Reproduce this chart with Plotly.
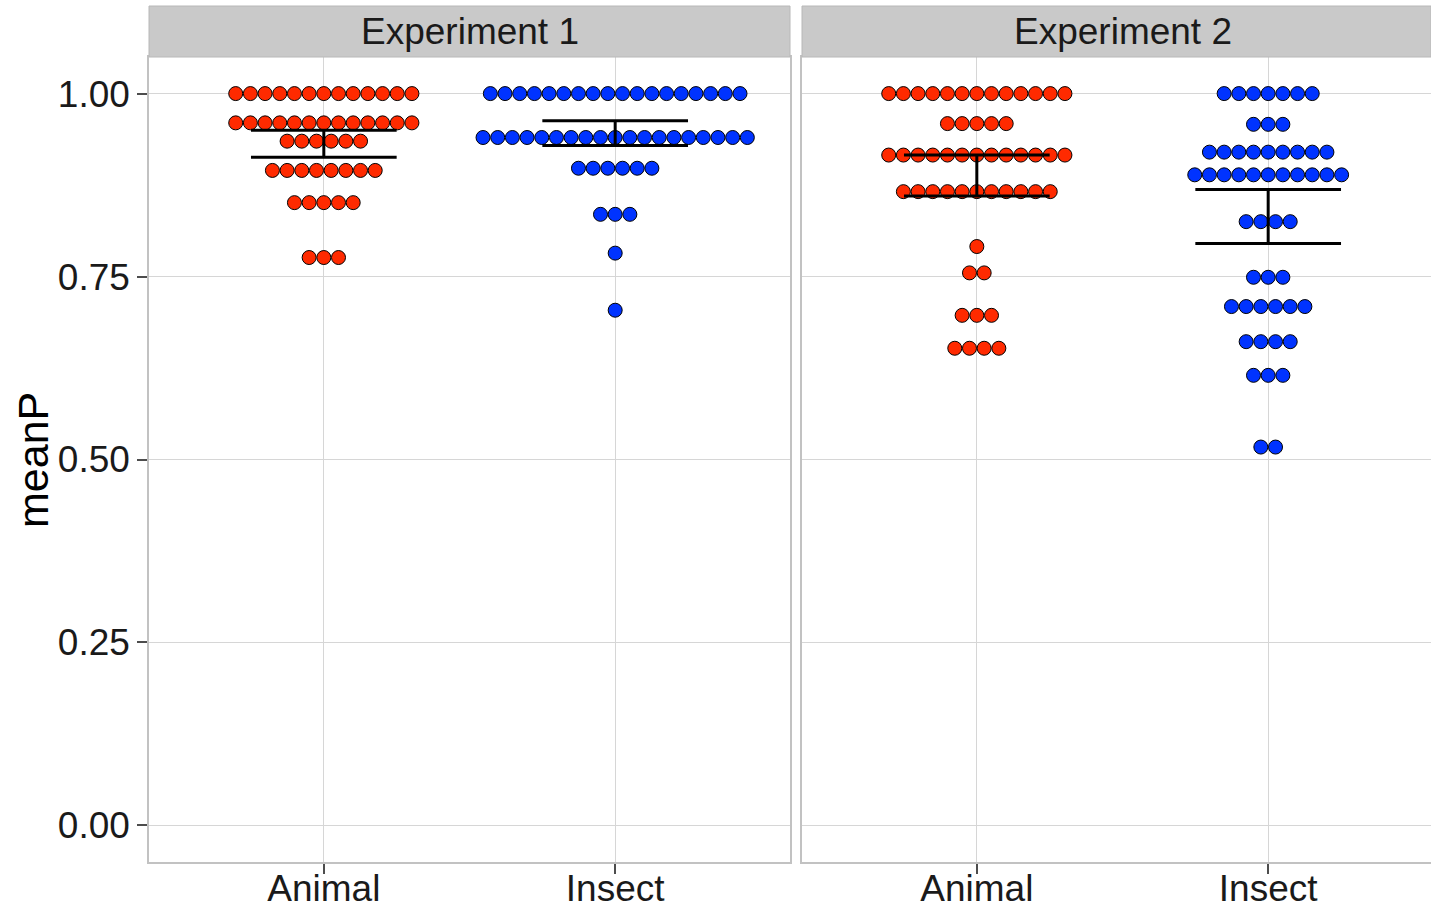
import plotly.graph_objects as go

experiments = ["Experiment 1", "Experiment 2"]
categories = ["Animal", "Insect"]
y_ticks = [0.00, 0.25, 0.50, 0.75, 1.00]
y_tick_labels = ["0.00", "0.25", "0.50", "0.75", "1.00"]

# Dot rows: binned meanP level and the number of participants in each bin
exp1_animal_levels = [1.000, 0.960, 0.935, 0.895, 0.851, 0.776]
exp1_animal_counts = [13, 13, 6, 8, 5, 3]
exp1_insect_levels = [1.000, 0.940, 0.898, 0.835, 0.782, 0.704]
exp1_insect_counts = [18, 19, 6, 3, 1, 1]
exp2_animal_levels = [1.000, 0.959, 0.916, 0.866, 0.791, 0.755, 0.697, 0.652]
exp2_animal_counts = [13, 5, 13, 11, 1, 2, 3, 4]
exp2_insect_levels = [1.000, 0.958, 0.920, 0.889, 0.825, 0.749, 0.709, 0.661, 0.615, 0.517]
exp2_insect_counts = [7, 3, 9, 11, 4, 3, 6, 4, 3, 2]

# Confidence interval around each group mean (Animal, Insect)
exp1_ci_low = [0.913, 0.929]
exp1_ci_high = [0.950, 0.963]
exp2_ci_low = [0.860, 0.795]
exp2_ci_high = [0.916, 0.869]

colors = {"Animal": "#ff2a00", "Insect": "#0033ff"}

DOT_STEP = 0.0504      # horizontal spacing of stacked dots, in category units
CAP_HALF = 0.25        # half width of the error bar caps

panels = [
    {
        "name": experiments[0], "x": "x", "y": "y",
        "groups": [(exp1_animal_levels, exp1_animal_counts),
                   (exp1_insect_levels, exp1_insect_counts)],
        "lo": exp1_ci_low, "hi": exp1_ci_high,
    },
    {
        "name": experiments[1], "x": "x2", "y": "y2",
        "groups": [(exp2_animal_levels, exp2_animal_counts),
                   (exp2_insect_levels, exp2_insect_counts)],
        "lo": exp2_ci_low, "hi": exp2_ci_high,
    },
]

fig = go.Figure()

for panel in panels:
    # centred dot stacks
    for ci, (levels, counts) in enumerate(panel["groups"]):
        xs, ys = [], []
        for level, n in zip(levels, counts):
            for i in range(n):
                xs.append(ci + (i - (n - 1) / 2) * DOT_STEP)
                ys.append(level)
        fig.add_trace(go.Scatter(
            x=xs, y=ys, mode="markers", xaxis=panel["x"], yaxis=panel["y"],
            marker=dict(size=14, color=colors[categories[ci]],
                        line=dict(color="black", width=1)),
            showlegend=False, hoverinfo="y",
        ))
    # error bars
    ex, ey = [], []
    for ci in range(len(categories)):
        lo, hi = panel["lo"][ci], panel["hi"][ci]
        ex += [ci - CAP_HALF, ci + CAP_HALF, None, ci, ci, None, ci - CAP_HALF, ci + CAP_HALF, None]
        ey += [hi, hi, None, lo, hi, None, lo, lo, None]
    fig.add_trace(go.Scatter(
        x=ex, y=ey, mode="lines", xaxis=panel["x"], yaxis=panel["y"],
        line=dict(color="black", width=3), showlegend=False, hoverinfo="skip",
    ))

FONT = "Liberation Sans, Arial, sans-serif"
GRID = "#d6d6d6"
BORDER = "#c2c2c2"
TICKC = "#4d4d4d"

W, H = 1431, 912
ML, MT, MB, MR = 149, 6, 50, 0
pw = W - ML - MR
ph = H - MT - MB
plot_top = (862 - 57) / ph
strip_h = 1.0 - plot_top

x1_dom = [0, 641 / pw]
x2_dom = [(802 - ML) / pw, 1.0]
unit_px = 641 / 2.2
x2_right = -0.6 + (W - 802) / unit_px

common_x = dict(
    tickmode="array", tickvals=[0, 1], ticktext=categories,
    showgrid=True, gridcolor=GRID, gridwidth=1.3, zeroline=False,
    showline=True, linecolor=BORDER, linewidth=1.5, mirror=True,
    ticks="outside", ticklen=10, tickwidth=2, tickcolor=TICKC,
    ticklabelstandoff=-17, automargin=False,
    tickfont=dict(family=FONT, size=37, color="#1a1a1a"),
)
common_y = dict(
    range=[-0.05, 1.05], tickmode="array", tickvals=y_ticks,
    showgrid=True, gridcolor=GRID, gridwidth=1.3, zeroline=False,
    showline=True, linecolor=BORDER, linewidth=1.5, automargin=False,
    domain=[0, plot_top],
)

fig.update_layout(
    width=W, height=H,
    margin=dict(l=ML, r=MR, t=MT, b=MB),
    paper_bgcolor="white", plot_bgcolor="white",
    xaxis=dict(domain=x1_dom, range=[-0.6, 1.6], anchor="y", **common_x),
    xaxis2=dict(domain=x2_dom, range=[-0.6, x2_right], anchor="y2", **common_x),
    yaxis=dict(anchor="x", ticktext=y_tick_labels, mirror=True,
               ticks="outside", ticklen=10, tickwidth=2, tickcolor=TICKC,
               ticklabelstandoff=0,
               tickfont=dict(family=FONT, size=37, color="#1a1a1a"), **common_y),
    yaxis2=dict(anchor="x2", showticklabels=False, ticks="", **common_y),
)

# facet strips
strip_shapes = []
for dom, panel, xref in [(x1_dom, panels[0], "x"), (x2_dom, panels[1], "x2")]:
    strip_shapes.append(dict(
        type="rect", xref="paper", yref="paper",
        x0=dom[0], x1=dom[1], y0=plot_top, y1=plot_top + strip_h,
        fillcolor="#c9c9c9", line=dict(color="#b8b8b8", width=1), layer="above",
    ))
    fig.add_annotation(
        x=0.5, xref=xref, y=plot_top + strip_h / 2, yref="paper",
        text=panel["name"], showarrow=False, xanchor="center", yanchor="middle",
        font=dict(family=FONT, size=37, color="#1a1a1a"),
    )
fig.update_layout(shapes=strip_shapes)

fig.add_annotation(
    x=(33 - ML) / pw, xref="paper", y=(862 - 460) / ph, yref="paper",
    text="meanP", textangle=-90, showarrow=False, xanchor="center", yanchor="middle",
    font=dict(family=FONT, size=43, color="black"),
)

fig.write_html("out.html")
